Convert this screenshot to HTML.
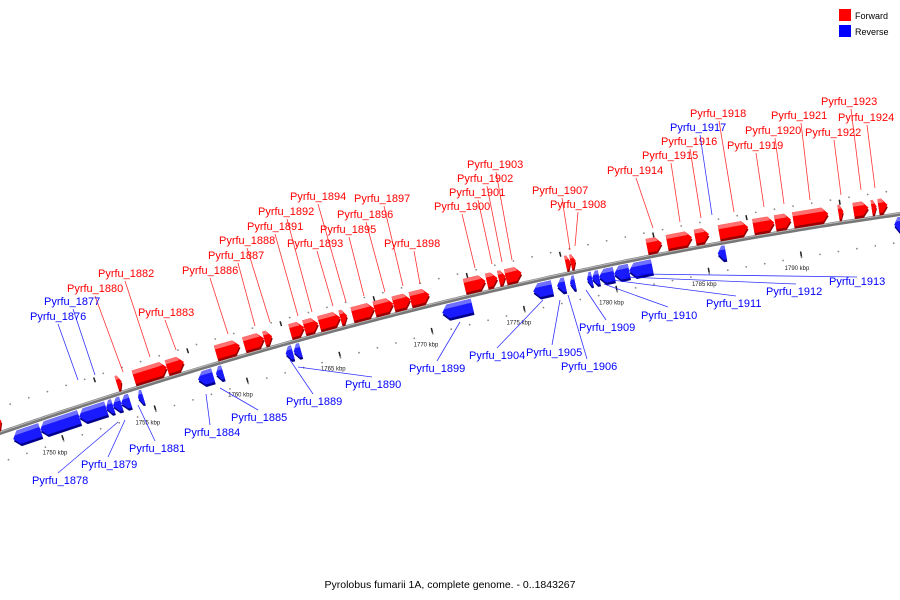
<!DOCTYPE html>
<html><head><meta charset="utf-8"><style>
html,body{margin:0;padding:0;background:#fff;width:900px;height:600px;overflow:hidden}
svg{display:block}
text{font-family:"Liberation Sans",sans-serif}
</style></head><body>
<svg id="chart" width="900" height="600" viewBox="0 0 900 600" xmlns="http://www.w3.org/2000/svg">
<g id="grid"></g>
<path id="axis" fill="none" stroke="#777" stroke-width="4"/>
<path id="axis2" fill="none" stroke="#bbb" stroke-width="1"/>
<g id="genes"></g>
<g id="labels"></g>
<g>
<rect x="839" y="9" width="12" height="12" fill="#f00"/>
<text x="855" y="19" font-size="9">Forward</text>
<rect x="839" y="25" width="12" height="12" fill="#00f"/>
<text x="855" y="35" font-size="9">Reverse</text>
</g>
<text x="450" y="588" font-size="10.5" text-anchor="middle">Pyrolobus fumarii 1A, complete genome. - 0..1843267</text>
</svg>
<script>
// forward gene starts/ends (kbp)
const fwdStart=[1747.0,1753.5,1754.42,1756.2,1758.84,1760.35,1761.43,1762.83,1763.58,1764.39,1765.53,1766.17,1767.36,1768.38,1769.3,1772.21,1773.4,1774.04,1774.42,1777.65,1777.92,1782.02,1783.1,1784.61,1785.9,1787.74,1788.92,1789.89,1792.32,1793.13,1794.1,1794.47];
const fwdEnd=[1747.3,1753.77,1756.2,1757.12,1760.13,1761.43,1761.86,1763.58,1764.34,1765.53,1765.9,1767.36,1768.38,1769.3,1770.32,1773.34,1773.99,1774.42,1775.28,1777.92,1778.19,1782.83,1784.45,1785.36,1787.47,1788.87,1789.78,1791.78,1792.59,1793.94,1794.37,1794.96];
// reverse gene starts/ends (kbp)
const revStart=[1747.57,1749.03,1751.13,1752.59,1752.96,1753.4,1754.31,1757.55,1758.52,1762.29,1762.72,1770.75,1775.66,1776.95,1777.65,1778.57,1778.84,1779.22,1780.03,1780.84,1785.63,1795.17];
const revEnd=[1749.03,1751.13,1752.59,1752.96,1753.4,1753.88,1754.58,1758.36,1758.9,1762.67,1763.1,1772.37,1776.68,1777.39,1777.92,1778.84,1779.22,1780.03,1780.84,1782.08,1786.06,1795.55];
const tickKbp=[1750,1755,1760,1765,1770,1775,1780,1785,1790];
const tickLabels=["1750 kbp","1755 kbp","1760 kbp","1765 kbp","1770 kbp","1775 kbp","1780 kbp","1785 kbp","1790 kbp"];
// gene labels: name, strand
const labelNames=["Pyrfu_1880","Pyrfu_1882","Pyrfu_1883","Pyrfu_1886","Pyrfu_1887","Pyrfu_1888","Pyrfu_1891","Pyrfu_1892","Pyrfu_1893","Pyrfu_1894","Pyrfu_1895","Pyrfu_1896","Pyrfu_1897","Pyrfu_1898","Pyrfu_1900","Pyrfu_1901","Pyrfu_1902","Pyrfu_1903","Pyrfu_1907","Pyrfu_1908","Pyrfu_1914","Pyrfu_1915","Pyrfu_1916","Pyrfu_1918","Pyrfu_1919","Pyrfu_1920","Pyrfu_1921","Pyrfu_1922","Pyrfu_1923","Pyrfu_1924",
"Pyrfu_1876","Pyrfu_1877","Pyrfu_1878","Pyrfu_1879","Pyrfu_1881","Pyrfu_1884","Pyrfu_1885","Pyrfu_1889","Pyrfu_1890","Pyrfu_1899","Pyrfu_1904","Pyrfu_1905","Pyrfu_1906","Pyrfu_1909","Pyrfu_1910","Pyrfu_1911","Pyrfu_1912","Pyrfu_1913","Pyrfu_1917"];
const labelFwd=[1,1,1,1,1,1,1,1,1,1,1,1,1,1,1,1,1,1,1,1,1,1,1,1,1,1,1,1,1,1,0,0,0,0,0,0,0,0,0,0,0,0,0,0,0,0,0,0,0];
const labelPos=[[67,292,95,296,123,372],[98,277,125,281,150,357],[138,316,165,320,176,350],[182,274,210,278,228,334],[208,259,238,263,255,326],[219,244,247,248,270,322],[247,230,275,234,298,316],[258,215,287,219,312,312],[287,247,317,251,333,306],[290,200,318,204,346,302],[320,233,349,237,364,296],[337,218,366,222,385,292],[354,202,384,206,403,286],[384,247,414,251,420,284],[434,210,462,214,475,268],[449,196,478,200,492,264],[457,182,487,186,502,262],[467,168,496,172,512,260],[532,194,562,198,570,250],[550,208,578,212,575,246],[607,174,636,178,653,228],[642,159,671,163,680,222],[661,145,690,149,701,218],[690,117,719,121,734,212],[727,149,756,153,764,207],[745,134,775,138,784,204],[771,119,801,123,810,200],[805,136,834,140,841,195],[821,105,851,109,861,190],[838,121,867,125,875,188],
[30,320,58,324,78,380],[44,305,73,309,95,375],[32,484,58,473,118,422],[81,468,108,457,125,420],[129,452,155,441,138,405],[184,436,210,425,206,394],[231,421,258,410,220,388],[286,405,313,394,290,360],[345,388,372,377,298,367],[409,372,437,361,460,322],[469,359,497,348,543,300],[526,356,552,345,560,300],[561,370,587,359,568,295],[579,331,606,320,586,290],[641,319,668,307,604,284],[706,307,736,296,612,280],[766,295,796,284,625,277],[829,285,857,277,640,274],[670,131,700,135,712,215]];

const NS="http://www.w3.org/2000/svg";
function xOf(k){return 55+(k-1750)*18.55;}
function yOf(x){return 433-0.345*x+0.000113*x*x;}
function ang(x){return Math.atan(-0.345+0.000226*x)*180/Math.PI;}
function mk(tag,attrs,parent){const e=document.createElementNS(NS,tag);for(const k in attrs)e.setAttribute(k,attrs[k]);parent.appendChild(e);return e;}

let d="",d2="";
for(let x=-5;x<=905;x+=5){d+=(x<0?"M":"L")+x+","+yOf(x).toFixed(2);d2+=(x<0?"M":"L")+x+","+(yOf(x)-1).toFixed(2);}
document.getElementById('axis').setAttribute('d',d);
document.getElementById('axis2').setAttribute('d',d2);

const grid=document.getElementById('grid');
for(let k=1747;k<=1797;k++){
  const x=xOf(k);
  for(const off of [-24,28]){
    const r=ang(x)*Math.PI/180, nx=-Math.sin(r), ny=Math.cos(r);
    const c=mk('circle',{cx:(x+nx*off).toFixed(1),cy:(yOf(x)+ny*off).toFixed(1),r:0.9,fill:'#888'},grid);
    
    
  }
}
tickKbp.forEach((k,i)=>{
  const x=xOf(k),r=ang(x)*Math.PI/180,nx=-Math.sin(r),ny=Math.cos(r);
  const t=mk('line',{x1:(x+nx*22).toFixed(1),y1:(yOf(x)+ny*22).toFixed(1),x2:(x+nx*27).toFixed(1),y2:(yOf(x)+ny*27).toFixed(1),stroke:'#222','stroke-width':1.5},grid);
  
  
  const m=mk('line',{x1:(x+46-nx*18).toFixed(1),y1:(yOf(x+46)-ny*18).toFixed(1),x2:(x+46-nx*23).toFixed(1),y2:(yOf(x+46)-ny*23).toFixed(1),stroke:'#222','stroke-width':1.5},grid);
  
  
  const tx=mk('text',{x:x.toFixed(1),y:(yOf(x)+40).toFixed(1),'font-size':6,'text-anchor':'middle','font-family':'Liberation Serif, serif',fill:'#222'},grid);
  tx.textContent=tickLabels[i];
  
  
});

const genes=document.getElementById('genes');
function drawGene(s,e,fwd){
  const x1=xOf(s),x2=xOf(e),y1=yOf(x1),y2=yOf(x2);
  const L=Math.hypot(x2-x1,y2-y1),a=Math.atan2(y2-y1,x2-x1)*180/Math.PI;
  const off=fwd?-11:10,h=14,tip=Math.min(6,L*0.6);
  const cx=(x1+x2)/2,cy=(y1+y2)/2;
  const g=mk('g',{transform:`translate(${cx.toFixed(1)},${cy.toFixed(1)}) rotate(${a.toFixed(2)}) translate(${(-L/2).toFixed(1)},${off})`},genes);
  
  
  const base=fwd?'#f00':'#1a1aff',light=fwd?'#ff7070':'#7070ff',dark=fwd?'#900':'#00008a';
  let pts;
  if(fwd) pts=`0,${-h/2} ${L-tip},${-h/2} ${L},0 ${L-tip},${h/2} 0,${h/2}`;
  else pts=`${tip},${-h/2} ${L},${-h/2} ${L},${h/2} ${tip},${h/2} 0,0`;
  mk('polygon',{points:pts,fill:dark,transform:'translate(0,2.5)'},g);
  mk('polygon',{points:pts,fill:base},g);
  let lp=fwd?`0,${-h/2} ${L-tip},${-h/2} ${L-tip*0.6},${-h/2+4} 0,${-h/2+4}`:`${tip},${-h/2} ${L},${-h/2} ${L},${-h/2+4} ${tip*0.4},${-h/2+4}`;
  mk('polygon',{points:lp,fill:light},g);
}
fwdStart.forEach((s,i)=>drawGene(s,fwdEnd[i],true));
revStart.forEach((s,i)=>drawGene(s,revEnd[i],false));

const labels=document.getElementById('labels');
labelNames.forEach((n,i)=>{
  const p=labelPos[i],col=labelFwd[i]?'#f00':'#00f';
  const l=mk('line',{x1:p[2],y1:p[3],x2:p[4],y2:p[5],stroke:col,'stroke-width':0.8,opacity:0.8},labels);
  
  
  const t=mk('text',{x:p[0],y:p[1],'font-size':11,fill:col},labels);
  t.textContent=n;
  
  
});
</script>
</body></html>
